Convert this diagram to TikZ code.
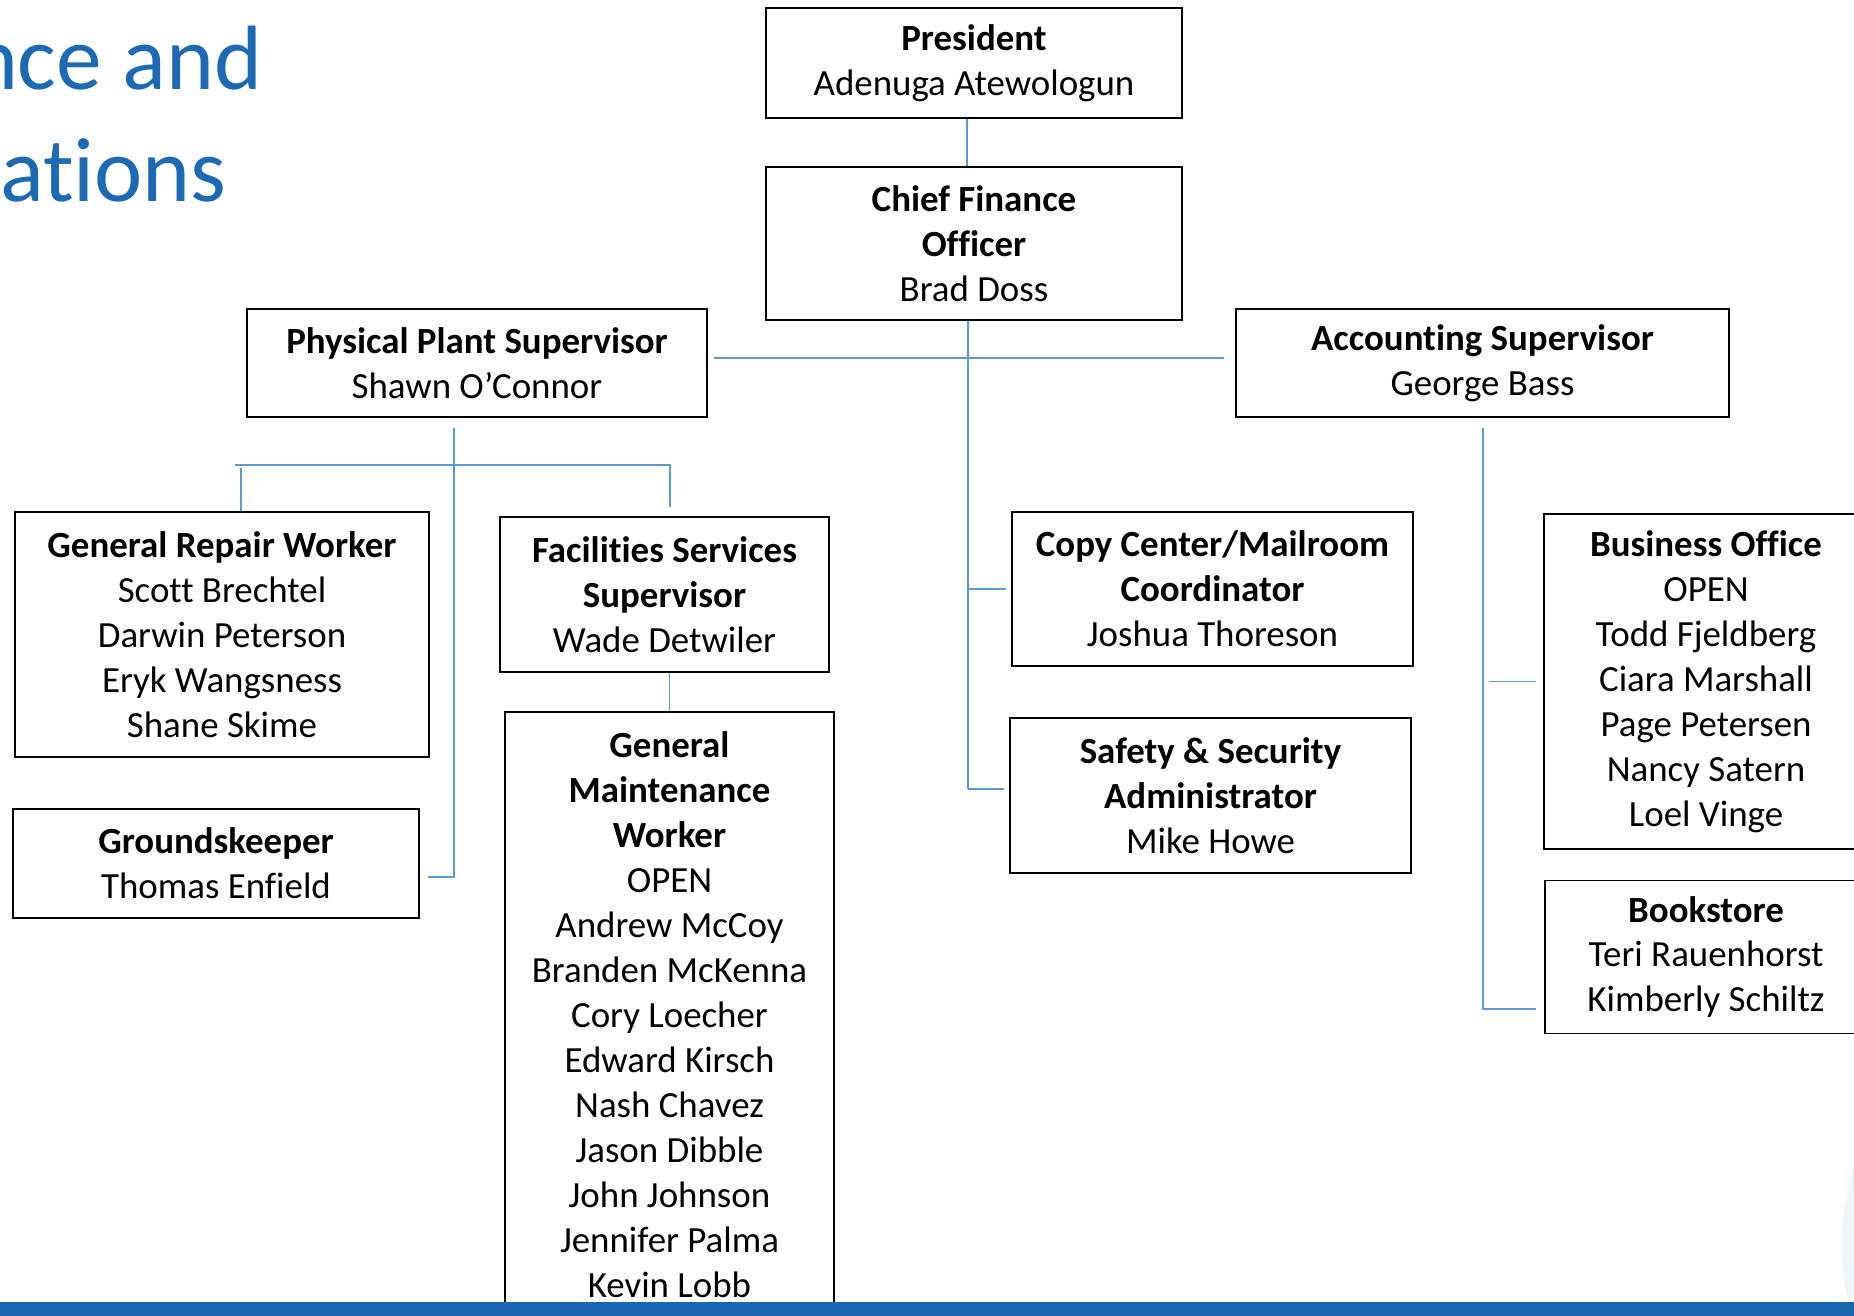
\documentclass[tikz,border=0pt]{standalone}
\usepackage{fontspec}
\setmainfont{Carlito}[Ligatures=NoCommon]
\usetikzlibrary{calc}
\definecolor{linkblue}{HTML}{5B9BD5}
\definecolor{titleblue}{HTML}{1C6AB4}
\definecolor{barblue}{HTML}{1A66B0}
\definecolor{ghost}{HTML}{EFF4F9}

\begin{document}
\begin{tikzpicture}[x=0.02cm, y=-0.02cm,
	post/.style={draw=black, line width=0.8pt, fill=white, inner sep=0pt, align=center, font=\fontsize{21}{25.6}\selectfont},
	link/.style={draw=linkblue, line width=0.6pt},
	heading/.style={anchor=base east, inner sep=0pt, text=titleblue, font=\fontsize{52}{62}\selectfont}]
			%%%%% START %%%%%
			
			\clip (0, 0) rectangle (1854, 1316);
			\fill[white] (0, 0) rectangle (1854, 1316);
			\fill[ghost] (2101, 1245) circle (259);
			
			\node[heading] (ttla) at (263, 89) {Finance and};
			\node[heading] (ttlb) at (227, 201) {Operations};
			
			\node[post, minimum width=8.32cm, minimum height=2.2cm] (pres) at (974, 63) {\textbf{President}\\Adenuga Atewologun};
			\node[post, minimum width=8.32cm, minimum height=3.06cm] (cfo) at (974, 243.5) {\textbf{Chief Finance}\\\textbf{Officer}\\Brad Doss};
			
			\node[post, minimum width=9.2cm, minimum height=2.16cm] (plant) at (477, 363) {\textbf{Physical Plant Supervisor}\\Shawn O’Connor};
			\node[post, minimum width=9.86cm, minimum height=2.16cm] (acct) at (1482.5, 363) {\textbf{Accounting Supervisor}\\George Bass};
			
			\node[post, minimum width=8.28cm, minimum height=4.9cm] (repair) at (222, 634.5) {\textbf{General Repair Worker}\\Scott Brechtel\\Darwin Peterson\\Eryk Wangsness\\Shane Skime};
			\node[post, minimum width=8.12cm, minimum height=2.18cm] (ground) at (216, 863.5) {\textbf{Groundskeeper}\\Thomas Enfield};
			\node[post, minimum width=6.58cm, minimum height=3.1cm] (facil) at (664.5, 594.5) {\textbf{Facilities Services}\\\textbf{Supervisor}\\Wade Detwiler};
			\node[post, minimum width=6.58cm, minimum height=12.12cm] (maint) at (669.5, 1015) {\textbf{General}\\\textbf{Maintenance}\\\textbf{Worker}\\OPEN\\Andrew McCoy\\Branden McKenna\\Cory Loecher\\Edward Kirsch\\Nash Chavez\\Jason Dibble\\John Johnson\\Jennifer Palma\\Kevin Lobb};
			
			\node[post, minimum width=8.02cm, minimum height=3.08cm] (copy) at (1212.5, 589) {\textbf{Copy Center/Mailroom}\\\textbf{Coordinator}\\Joshua Thoreson};
			\node[post, minimum width=8.02cm, minimum height=3.1cm] (safety) at (1210.5, 795.5) {\textbf{Safety \& Security}\\\textbf{Administrator}\\Mike Howe};
			
			\node[post, minimum width=6.48cm, minimum height=6.7cm] (busoff) at (1706, 681.5) {\textbf{Business Office}\\OPEN\\Todd Fjeldberg\\Ciara Marshall\\Page Petersen\\Nancy Satern\\Loel Vinge};
			\node[post, minimum width=6.44cm, minimum height=3.06cm] (books) at (1706, 957) {\textbf{Bookstore}\\Teri Rauenhorst\\Kimberly Schiltz};
			
			% top of the tree
			\draw[link] ($(pres.south)+(-7, 0)$) -- ($(cfo.north)+(-7, 0)$);
			\coordinate (midbar) at (970, 358);
			\draw[link, shorten <=0.12cm, shorten >=0.22cm] (midbar -| plant.east) -- (midbar -| acct.west);
			
			% under the chief finance officer
			\coordinate (cfoend) at (968, 789);
			\draw[link] (cfo.south -| cfoend) -- (cfoend);
			\draw[link, shorten >=0.1cm] (cfoend |- copy.west) -- (copy.west);
			\draw[link, shorten >=0.1cm] (cfoend) -- (cfoend -| safety.west);
			
			% under physical plant
			\coordinate (plantend) at (454, 877);
			\draw[link, shorten <=0.2cm, shorten >=0.16cm] (plant.south -| plantend) -- (plantend) -- (plantend -| ground.east);
			\coordinate (repj) at (241, 465);
			\coordinate (facj) at (670, 465);
			\draw[link, shorten >=0.18cm] ($(repj)+(-6, 0)$) -- (facj) -- (facj |- facil.north);
			\draw[link, shorten <=0.06cm] (repj) -- (repj |- repair.north);
			\draw[link] (facil.south -| maint.north) -- (maint.north);
			
			% under accounting
			\coordinate (acctend) at (1483, 1009);
			\draw[link, shorten <=0.2cm, shorten >=0.16cm] (acct.south -| acctend) -- (acctend) -- (acctend -| books.west);
			\draw[link, shorten >=0.14cm] ($(acctend |- busoff.west)+(6, 0)$) -- (busoff.west);
			
			\fill[barblue] (0, 1302) rectangle (1854, 1316);
			
			%%%%% END %%%%%
\end{tikzpicture}
\end{document}
